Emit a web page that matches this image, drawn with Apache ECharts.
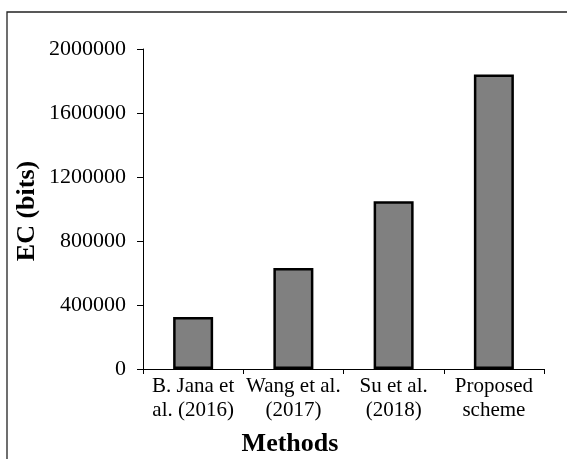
<!DOCTYPE html>
<html>
<head>
<meta charset="utf-8">
<style>
  html, body { margin: 0; padding: 0; background: #fff; }
  #chart { width: 567px; height: 459px; }
</style>
<script src="https://cdn.jsdelivr.net/npm/echarts@6/dist/echarts.min.js"></script>
</head>
<body>
<div id="chart"></div>
<script>
const categories = ['B. Jana et\nal. (2016)', 'Wang et al.\n(2017)', 'Su et al.\n(2018)', 'Proposed\nscheme'];
const ecValues = [325000, 632000, 1049000, 1840000];
const yTicks = { min: 0, max: 2000000, interval: 400000 };
const xTitle = 'Methods';
const yTitle = 'EC (bits)';

const chart = echarts.init(document.getElementById('chart'), null, { renderer: 'canvas' });
const font = 'Liberation Serif, Times New Roman, serif';
chart.setOption({
  animation: false,
  backgroundColor: '#fff',
  grid: { left: 143, right: 23, top: 49, bottom: 90, containLabel: false },
  xAxis: {
    type: 'category',
    data: categories,
    axisLine: { lineStyle: { color: '#000', width: 1 } },
    axisTick: { show: true, length: 5, lineStyle: { color: '#000' } },
    axisLabel: { color: '#000', fontFamily: font, fontSize: 21, lineHeight: 24, margin: 5, interval: 0 },
    splitLine: { show: false }
  },
  yAxis: {
    type: 'value',
    min: yTicks.min, max: yTicks.max, interval: yTicks.interval,
    axisLine: { show: true, lineStyle: { color: '#000', width: 1 } },
    axisTick: { show: true, length: 6, lineStyle: { color: '#000' } },
    axisLabel: { color: '#000', fontFamily: font, fontSize: 22, margin: 17, formatter: v => String(v) },
    splitLine: { show: false }
  },
  series: [{
    type: 'bar',
    data: ecValues,
    barWidth: 40,
    itemStyle: { color: '#808080', borderColor: '#000', borderWidth: 2.5 }
  }],
  graphic: [
    { type: 'rect', shape: { x: 7, y: 12, width: 600, height: 500 }, style: { fill: 'none', stroke: '#222', lineWidth: 1.3 }, silent: true },
    { type: 'text', x: 290, y: 444, style: { text: xTitle, fontFamily: font, fontWeight: 'bold', fontSize: 26, fill: '#000', align: 'center', verticalAlign: 'middle' } },
    { type: 'text', x: 27, y: 211, rotation: Math.PI / 2, style: { text: yTitle, fontFamily: font, fontWeight: 'bold', fontSize: 26, fill: '#000', align: 'center', verticalAlign: 'middle' } }
  ]
});
</script>
</body>
</html>
